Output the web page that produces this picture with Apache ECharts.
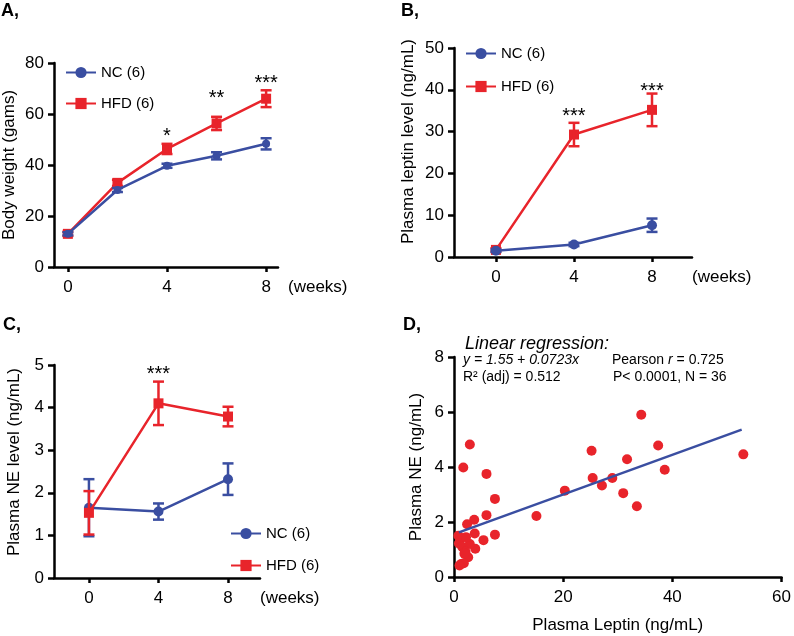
<!DOCTYPE html>
<html>
<head>
<meta charset="utf-8">
<script src="https://cdn.jsdelivr.net/npm/echarts@6/dist/echarts.min.js"></script>
<style>html,body{margin:0;padding:0;background:#fff;}#c{width:794px;height:636px;}</style>
</head>
<body>
<div id="c"></div>
<script>
// ---------- data ----------
const weeksA = [0, 2, 4, 6, 8];
const ncA = [13.0, 30.2, 39.7, 43.6, 48.3];
const ncAErr = [0.6, 0.8, 0.8, 1.4, 2.2];
const hfdA = [13.0, 33.0, 46.3, 56.3, 66.0];
const hfdAErr = [0.8, 1.2, 2.0, 2.6, 3.3];
const starWeeksA = [4, 6, 8];
const starTextA = ['*', '**', '***'];
const starYA = [51.1, 66.0, 71.9];

const weeksBC = [0, 4, 8];
const ncB = [1.5, 3.0, 7.6];
const ncBErr = [0.3, 0.4, 1.6];
const hfdB = [1.7, 29.3, 35.2];
const hfdBErr = [0.4, 2.8, 3.9];
const starWeeksB = [4, 8];
const starTextB = ['***', '***'];
const starYB = [33.5, 39.7];

const ncC = [1.65, 1.56, 2.32];
const ncCErr = [0.67, 0.19, 0.37];
const hfdC = [1.53, 4.10, 3.79];
const hfdCErr = [0.51, 0.51, 0.23];
const starWeeksC = [4];
const starTextC = ['***'];
const starYC = [4.77];

const leptinD = [34.3, 37.4, 38.6, 53.0, 33.5, 31.7, 31.0, 29.0, 27.1, 25.4, 25.2, 20.3, 15.1,
                 1.7, 2.9, 5.95, 7.5, 5.95, 3.7, 2.4, 3.8, 7.5, 5.4, 3.9, 1.3, 0.9, 1.5, 2.9,
                 2.1, 2.6, 1.3, 1.8, 0.8, 1.9, 2.2, 1.0];
const neD = [5.90, 4.78, 3.90, 4.46, 2.57, 4.28, 3.05, 3.60, 3.33, 3.60, 4.59, 3.14, 2.22,
             3.98, 4.82, 3.75, 2.84, 2.25, 2.08, 1.92, 1.58, 1.54, 1.34, 1.03, 1.41, 1.22, 1.10, 1.20,
             0.92, 0.72, 0.47, 0.50, 1.50, 0.85, 1.45, 0.42];
const fitX = [0.9, 52.7];
const fitY = [1.62, 5.36];

const xTicksWeeks = [0, 4, 8];

// ---------- style ----------
const BLUE = '#3a4ea1';
const RED = '#e8242b';
const FONT = "'Liberation Sans', Arial, Helvetica, sans-serif";

function zip(a, b) { return a.map((v, i) => [v, b[i]]); }
function zip3(a, b, c) { return a.map((v, i) => [v, b[i], c[i]]); }

function errSeries(gi, x, y, e, color) {
  return {
    type: 'custom', xAxisIndex: gi, yAxisIndex: gi, silent: true, z: 3,
    data: zip3(x, y, e),
    renderItem: function (params, api) {
      const xv = api.value(0), yv = api.value(1), ev = api.value(2);
      const t = api.coord([xv, yv + ev]);
      const b = api.coord([xv, yv - ev]);
      const hw = 5.5;
      const st = { stroke: color, lineWidth: 2.5 };
      return { type: 'group', children: [
        { type: 'line', shape: { x1: t[0], y1: t[1], x2: b[0], y2: b[1] }, style: st },
        { type: 'line', shape: { x1: t[0] - hw, y1: t[1], x2: t[0] + hw, y2: t[1] }, style: st },
        { type: 'line', shape: { x1: b[0] - hw, y1: b[1], x2: b[0] + hw, y2: b[1] }, style: st }
      ]};
    }
  };
}

function starSeries(gi, x, y, txt) {
  return {
    type: 'custom', xAxisIndex: gi, yAxisIndex: gi, silent: true, z: 5,
    data: x.map((v, i) => [v, y[i], i]),
    renderItem: function (params, api) {
      const p = api.coord([api.value(0), api.value(1)]);
      return { type: 'text', x: p[0], y: p[1], style: {
        text: txt[api.value(2)], font: '20px ' + FONT, fill: '#000',
        align: 'center', verticalAlign: 'middle' } };
    }
  };
}

function lineSeries(gi, name, x, y, color, symbol, size, z) {
  return {
    type: 'line', name: name, xAxisIndex: gi, yAxisIndex: gi,
    data: zip(x, y), symbol: symbol, symbolSize: size, showSymbol: true,
    lineStyle: { color: color, width: 2.5 }, itemStyle: { color: color },
    z: z, animation: false
  };
}

const axisLine = { show: true, onZero: false, lineStyle: { color: '#000', width: 2.5 } };
const axisLabelBase = { color: '#000', fontSize: 17, fontFamily: FONT };

function xAxisWeeks(gi, min, max, gap) {
  return {
    type: 'value', gridIndex: gi, min: min, max: max,
    axisLine: axisLine,
    axisTick: { show: true, length: 5, lineStyle: { color: '#000', width: 2.5 }, customValues: xTicksWeeks },
    axisLabel: Object.assign({ margin: 12, customValues: xTicksWeeks }, axisLabelBase),
    splitLine: { show: false },
    name: '(weeks)', nameLocation: 'end', nameGap: gap,
    nameTextStyle: { color: '#000', fontSize: 17, fontFamily: FONT, verticalAlign: 'top', lineHeight: 40 }
  };
}

function yAxisVal(gi, max, interval, name, gap, shift) {
  return {
    type: 'value', gridIndex: gi, min: 0, max: max, interval: interval,
    axisLine: axisLine,
    axisTick: { show: true, length: 6, lineStyle: { color: '#000', width: 2.5 } },
    axisLabel: Object.assign({ margin: 10 }, axisLabelBase),
    splitLine: { show: false },
    name: name, nameLocation: 'middle', nameRotate: 90, nameGap: gap,
    nameTextStyle: { color: '#000', fontSize: 17, fontFamily: FONT, padding: [0, 0, 0, shift] }
  };
}

const legendBase = {
  orient: 'vertical', itemWidth: 30, itemHeight: 14, padding: 0,
  textStyle: { color: '#000', fontSize: 15, fontFamily: FONT },
  data: ['NC (6)', 'HFD (6)'], selectedMode: false
};

const chart = echarts.init(document.getElementById('c'), null, { renderer: 'canvas' });

const option = {
  animation: false,
  backgroundColor: '#fff',
  grid: [
    { left: 53, top: 63, width: 225, height: 204 },
    { left: 454, top: 48, width: 238, height: 209 },
    { left: 54, top: 365, width: 206, height: 213 },
    { left: 454, top: 357, width: 330, height: 220 }
  ],
  xAxis: [
    xAxisWeeks(0, -0.56, 8.48, 10),
    xAxisWeeks(1, -2.15, 10.05, 0),
    xAxisWeeks(2, -2.01, 9.84, 0),
    {
      type: 'value', gridIndex: 3, min: 0, max: 60, interval: 20,
      axisLine: axisLine,
      axisTick: { show: true, length: 5, lineStyle: { color: '#000', width: 2.5 } },
      axisLabel: Object.assign({ margin: 12 }, axisLabelBase),
      splitLine: { show: false },
      name: 'Plasma Leptin (ng/mL)', nameLocation: 'middle', nameGap: 40,
      nameTextStyle: { color: '#000', fontSize: 17, fontFamily: FONT }
    }
  ],
  yAxis: [
    yAxisVal(0, 80, 20, 'Body weight (gams)', 36, 0),
    yAxisVal(1, 50, 10, 'Plasma leptin level (ng/mL)', 37, 22),
    yAxisVal(2, 5, 1, 'Plasma NE level (ng/mL)', 31, 19),
    yAxisVal(3, 8, 2, 'Plasma NE (ng/mL)', 29, 0)
  ],
  legend: [
    Object.assign({ left: 65, top: 65, itemGap: 16 }, legendBase),
    Object.assign({ left: 465, top: 46, itemGap: 18 }, legendBase),
    Object.assign({ left: 230, top: 526, itemGap: 17 }, legendBase)
  ],
  series: [
    // Panel A
    lineSeries(0, 'HFD (6)', weeksA, hfdA, RED, 'rect', 10, 2),
    errSeries(0, weeksA, hfdA, hfdAErr, RED),
    lineSeries(0, 'NC (6)', weeksA, ncA, BLUE, 'circle', 8, 4),
    errSeries(0, weeksA, ncA, ncAErr, BLUE),
    starSeries(0, starWeeksA, starYA, starTextA),
    // Panel B
    lineSeries(1, 'HFD (6)', weeksBC, hfdB, RED, 'rect', 10, 2),
    errSeries(1, weeksBC, hfdB, hfdBErr, RED),
    lineSeries(1, 'NC (6)', weeksBC, ncB, BLUE, 'circle', 10, 4),
    errSeries(1, weeksBC, ncB, ncBErr, BLUE),
    starSeries(1, starWeeksB, starYB, starTextB),
    // Panel C
    lineSeries(2, 'NC (6)', weeksBC, ncC, BLUE, 'circle', 10, 2),
    errSeries(2, weeksBC, ncC, ncCErr, BLUE),
    lineSeries(2, 'HFD (6)', weeksBC, hfdC, RED, 'rect', 10, 4),
    errSeries(2, weeksBC, hfdC, hfdCErr, RED),
    starSeries(2, starWeeksC, starYC, starTextC),
    // Panel D
    {
      type: 'scatter', name: 'Samples', xAxisIndex: 3, yAxisIndex: 3,
      data: zip(leptinD, neD), symbol: 'circle', symbolSize: 10,
      itemStyle: { color: RED, opacity: 1 }, z: 2
    },
    {
      type: 'line', name: 'Linear fit', xAxisIndex: 3, yAxisIndex: 3,
      data: zip(fitX, fitY), symbol: 'none', showSymbol: false,
      lineStyle: { color: BLUE, width: 2.5 }, z: 3
    }
  ],
  graphic: [
    { type: 'text', x: 1, y: 11, style: { text: 'A,', font: 'bold 18px ' + FONT, fill: '#000', verticalAlign: 'middle' } },
    { type: 'text', x: 401, y: 11, style: { text: 'B,', font: 'bold 18px ' + FONT, fill: '#000', verticalAlign: 'middle' } },
    { type: 'text', x: 3, y: 325, style: { text: 'C,', font: 'bold 18px ' + FONT, fill: '#000', verticalAlign: 'middle' } },
    { type: 'text', x: 403, y: 325, style: { text: 'D,', font: 'bold 18px ' + FONT, fill: '#000', verticalAlign: 'middle' } },
    { type: 'text', x: 465, y: 344, style: { text: 'Linear regression:', font: 'italic 18px ' + FONT, fill: '#000', verticalAlign: 'middle' } },
    { type: 'text', x: 463, y: 360, style: { text: 'y = 1.55 + 0.0723x', font: 'italic 14px ' + FONT, fill: '#000', verticalAlign: 'middle' } },
    { type: 'text', x: 463, y: 377, style: { text: 'R² (adj) = 0.512', font: '14px ' + FONT, fill: '#000', verticalAlign: 'middle' } },
    { type: 'text', x: 612, y: 360, style: {
        text: 'Pearson {i|r} = 0.725', font: '14px ' + FONT, fill: '#000', verticalAlign: 'middle',
        rich: { i: { fontStyle: 'italic', fontSize: 14, fontFamily: FONT, fill: '#000' } } } },
    { type: 'text', x: 613, y: 377, style: { text: 'P< 0.0001, N = 36', font: '14px ' + FONT, fill: '#000', verticalAlign: 'middle' } }
  ]
};

chart.setOption(option);
</script>
</body>
</html>
